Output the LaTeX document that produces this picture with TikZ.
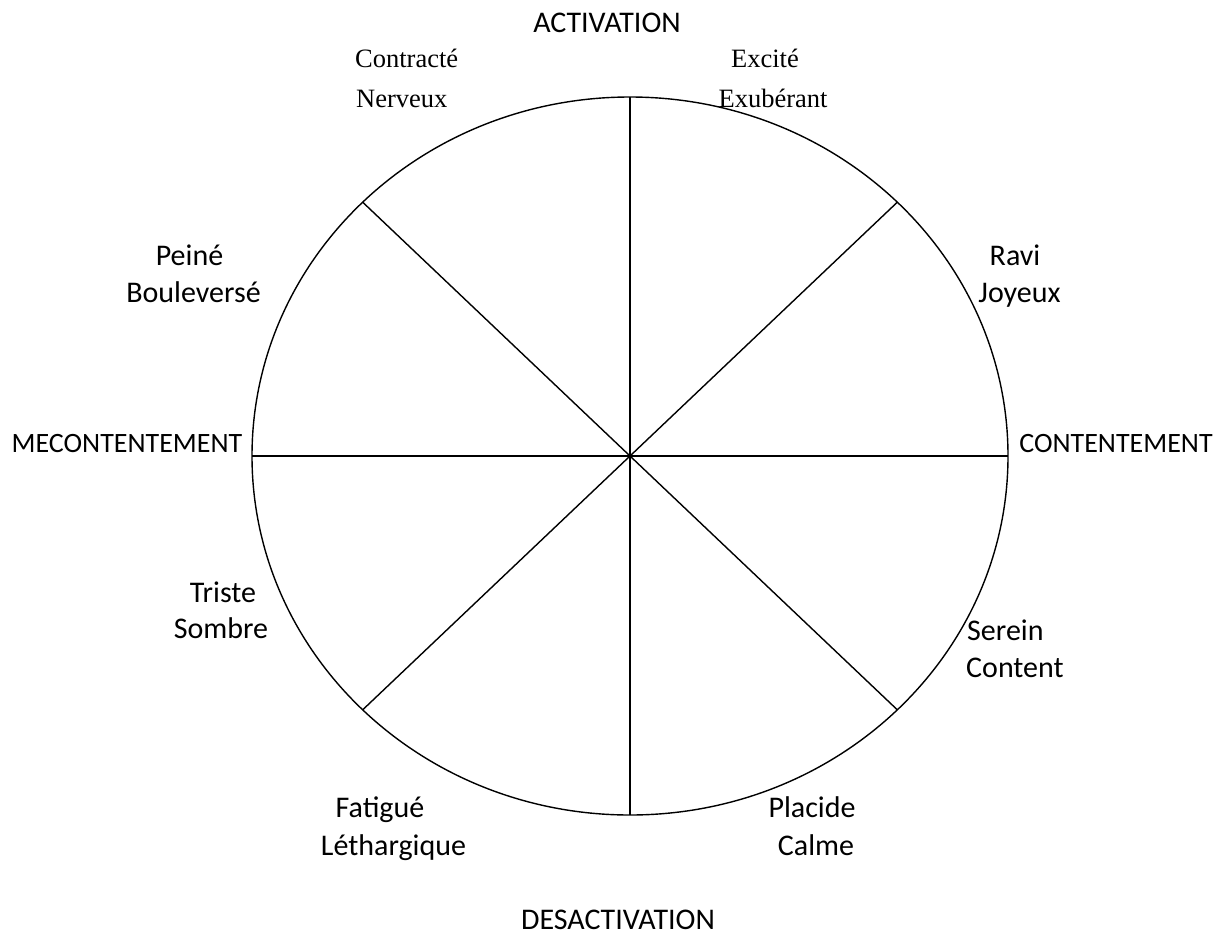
\documentclass[tikz,border=0pt]{standalone}
\usepackage{fontspec}
\setmainfont{Carlito}
\newfontfamily\timesfont{Liberation Serif}
\begin{document}
\begin{tikzpicture}[x=1pt,y=-1pt,
  lbl/.style={inner sep=0pt,anchor=base,font=\fontsize{30}{36}\selectfont},
  side/.style={inner sep=0pt,anchor=base,font=\fontsize{28}{34}\selectfont},
  tlbl/.style={inner sep=0pt,anchor=base,font=\fontsize{26.5}{32}\selectfont\timesfont},
  axis/.style={line width=1.4pt}]
\useasboundingbox (0,0) rectangle (1225,937);
\coordinate (c) at (630,456);
\draw[axis] (c) ellipse [x radius=378, y radius=359];
\coordinate (n) at (630,97);
\coordinate (s) at (630,815);
\coordinate (w) at (252,456);
\coordinate (e) at (1008,456);
\coordinate (ne) at (897.3,202.2);
\coordinate (nw) at (362.7,202.2);
\coordinate (se) at (897.3,709.8);
\coordinate (sw) at (362.7,709.8);
\draw[axis] (n) -- (s);
\draw[axis] (w) -- (e);
\draw[axis] (ne) -- (sw);
\draw[axis] (nw) -- (se);
\node[lbl] (act) at (607,32) {ACTIVATION};
\node[lbl] (desact) at (618,929) {DESACTIVATION};
\node[side] (mec) at (127,452) {MECONTENTEMENT};
\node[side] (cont) at (1116,452) {CONTENTEMENT};
\node[tlbl,anchor=base west] (contr1) at (355,67) {Contracté};
\node[tlbl,anchor=base west] (contr2) at (356,107) {Nerveux};
\node[tlbl] (exc1) at (765,67) {Excité};
\node[tlbl] (exc2) at (773,107) {Exubérant};
\node[lbl] (pein1) at (189.5,265) {Peiné};
\node[lbl] (pein2) at (193.5,302) {Bouleversé};
\node[lbl] (ravi1) at (1015,265) {Ravi};
\node[lbl] (ravi2) at (1019.5,302) {Joyeux};
\node[lbl] (trist1) at (223,602) {Triste};
\node[lbl] (trist2) at (221,638) {Sombre};
\node[lbl,anchor=base west] (ser1) at (967,640) {Serein};
\node[lbl,anchor=base west] (ser2) at (966,677) {Content};
\node[lbl] (fat1) at (380,817) {Fatigué};
\node[lbl] (fat2) at (393.5,855) {Léthargique};
\node[lbl] (plac1) at (812,817) {Placide};
\node[lbl] (plac2) at (816,855) {Calme};
\end{tikzpicture}
\end{document}
